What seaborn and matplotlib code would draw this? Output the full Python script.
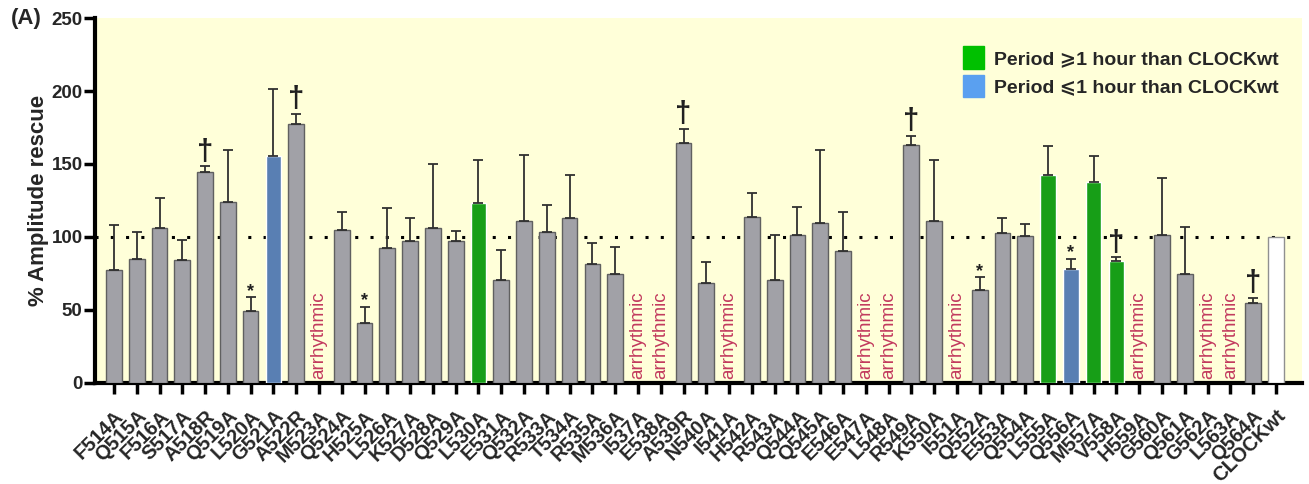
import numpy as np
import pandas as pd
import matplotlib
matplotlib.use("Agg")
import matplotlib.pyplot as plt
from matplotlib.patches import Patch
import seaborn as sns

categories = ["F514A", "Q515A", "F516A", "S517A", "A518R", "Q519A", "L520A", "G521A", "A522R",
              "M523A", "Q524A", "H525A", "L526A", "K527A", "D528A", "Q529A", "L530A", "E531A",
              "Q532A", "R533A", "T534A", "R535A", "M536A", "I537A", "E538A", "A539R", "N540A",
              "I541A", "H542A", "R543A", "Q544A", "Q545A", "E546A", "E547A", "L548A", "R549A",
              "K550A", "I551A", "Q552A", "E553A", "Q554A", "L555A", "Q556A", "M557A", "V558A",
              "H559A", "G560A", "Q561A", "G562A", "L563A", "Q564A", "CLOCKwt"]
nan = np.nan
amplitude = [77.6, 84.9, 106.2, 84.5, 144.5, 124.0, 49.3, 155.7, 177.6,
             nan, 104.8, 41.1, 92.7, 97.3, 106.4, 97.0, 123.0, 70.8,
             110.7, 103.4, 113.2, 81.7, 74.7, nan, nan, 164.6, 68.3,
             nan, 113.7, 70.8, 101.4, 109.6, 90.2, nan, nan, 162.8,
             111.2, nan, 63.7, 102.7, 100.7, 142.5, 77.9, 137.7, 83.8,
             nan, 101.4, 74.4, nan, nan, 55.0, 100.0]
err_top = [108.4, 103.2, 126.5, 97.7, 148.4, 159.4, 58.7, 201.4, 184.5,
           nan, 117.4, 52.3, 119.9, 112.8, 150.2, 103.9, 153.0, 90.9,
           156.2, 121.7, 142.2, 95.9, 92.9, nan, nan, 174.0, 83.1,
           nan, 129.9, 101.6, 120.5, 159.6, 117.1, nan, nan, 169.4,
           152.7, nan, 72.6, 112.8, 108.7, 162.6, 85.2, 155.7, 86.1,
           nan, 140.6, 107.1, nan, nan, 58.2, nan]
group = ["n"] * 7 + ["short", "n"] + ["n"] * 7 + ["long"] + ["n"] * 24 + ["long", "short", "long", "long"] + ["n"] * 6 + ["wt"]
marks = {"A518R": "†", "A522R": "†", "A539R": "†", "R549A": "†", "V558A": "†", "Q564A": "†",
         "L520A": "*", "H525A": "*", "Q552A": "*", "Q556A": "*"}
legend_labels = ["Period \u2a7e1 hour than CLOCKwt", "Period \u2a7d1 hour than CLOCKwt"]

df = pd.DataFrame({"mutant": categories, "amp": amplitude, "err": err_top, "group": group})

sns.set_style("ticks")
plt.rcParams["font.family"] = ["Liberation Sans", "DejaVu Sans"]

fig = plt.figure(figsize=(13.09, 4.84), dpi=100)
ax = fig.add_axes([0.0726, 0.2087, 0.9221, 0.7541])
ax.set_facecolor("#ffffd9")

group_colors = {"n": "#a0a0a8", "short": "#4a7cc2", "long": "#00b400", "wt": "#ffffff"}
edge_colors = {"n": "#606060", "short": "#3a5a90", "long": "#1a801a", "wt": "#909090"}
sns.barplot(data=df, x="mutant", y="amp", hue="group", palette=group_colors, order=categories,
            dodge=False, width=0.69, legend=False, ax=ax, zorder=3, linewidth=1.0)
for patch in ax.patches:
    fc = patch.get_facecolor()
    for g, c in group_colors.items():
        if np.allclose(fc[:3], matplotlib.colors.to_rgb(c), atol=0.01):
            patch.set_edgecolor(edge_colors[g])

x = np.arange(len(categories))
amp = np.array(amplitude, dtype=float)
top = np.array(err_top, dtype=float)
ok = ~np.isnan(top)
ax.errorbar(x[ok], amp[ok], yerr=[np.zeros(ok.sum()), top[ok] - amp[ok]], fmt="none",
            ecolor="#303030", elinewidth=1.3, capsize=3.5, capthick=1.3, zorder=4)

ax.axhline(100, color="black", linestyle=(0, (1, 4)), linewidth=2.2, zorder=2)

for i, (c, a) in enumerate(zip(categories, amplitude)):
    if np.isnan(a):
        ax.text(i, 3, "arrhythmic", rotation=90, ha="center", va="bottom",
                color="#c23a5e", fontsize=13.5, zorder=5)
    if c in marks:
        t = top[i]
        if marks[c] == "†":
            ax.text(i, t + 0.5, "†", ha="center", va="bottom", fontsize=21,
                    fontweight="bold", color="#202020", zorder=5)
        else:
            ax.text(i, t - 2, "*", ha="center", va="bottom", fontsize=13,
                    fontweight="bold", color="#202020", zorder=5)

ax.set_ylim(0, 250)
ax.set_xlim(-0.83, 52.15)
ax.set_yticks([0, 50, 100, 150, 200, 250])
ax.set_xticks(x)
ax.set_xticklabels(categories, rotation=45, ha="right", rotation_mode="anchor",
                   fontsize=14.5, fontweight="bold")
for lab in ax.get_yticklabels():
    lab.set_fontsize(13.5)
    lab.set_fontweight("bold")
ax.tick_params(axis="both", length=8, width=2.5, color="black")
ax.tick_params(axis="y", pad=1)
ax.tick_params(axis="x", pad=9)
ax.set_xlabel("")
ax.set_ylabel("% Amplitude rescue", fontsize=16, fontweight="bold", labelpad=2)
for s in ["top", "right"]:
    ax.spines[s].set_visible(False)
for s in ["left", "bottom"]:
    ax.spines[s].set_linewidth(3)
    ax.spines[s].set_color("black")

handles = [Patch(facecolor="#00c000", edgecolor="#00c000"),
           Patch(facecolor="#5aa0f0", edgecolor="#5aa0f0")]
leg = ax.legend(handles, legend_labels, loc="upper right", bbox_to_anchor=(0.995, 0.97),
                frameon=False, handlelength=1.1, handleheight=1.4, handletextpad=0.5,
                labelspacing=0.3, prop={"weight": "bold", "size": 14})

fig.text(0.008, 0.962, "(A)", fontsize=16, fontweight="bold", va="center", ha="left")

fig.savefig("out.png", dpi=100)
